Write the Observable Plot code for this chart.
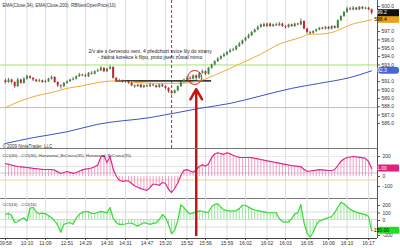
<!DOCTYPE html>
<html><head><meta charset="utf-8">
<script src="https://cdn.jsdelivr.net/npm/d3@7"></script>
<script src="https://cdn.jsdelivr.net/npm/@observablehq/plot@0.6"></script>
<style>
html,body{margin:0;padding:0;background:#fff;}
#chart{position:relative;width:400px;height:248px;overflow:hidden;}
#chart svg{position:absolute;left:0;}
</style></head><body><div id="chart"></div>
<script>
// ---------- data ----------
const open = [591.1,590.9,591.2,590.9,590.4,591.2,590.8,591.3,591.6,591.4,
591.2,591.0,591.1,590.9,591.0,591.3,591.5,590.9,590.5,590.4,
590.8,591.0,591.2,591.3,591.6,591.8,591.7,591.6,592.0,591.9,
592.2,592.3,592.6,592.2,592.5,592.7,591.4,591.0,591.1,590.9,
591.0,590.8,590.5,590.4,590.6,590.3,590.5,590.4,590.6,590.5,
590.3,590.6,590.4,590.2,589.8,589.6,589.9,590.4,590.9,591.2,
591.4,591.3,591.7,591.4,592.0,592.2,591.9,592.6,593.0,593.4,
593.7,594.0,594.2,594.5,594.7,594.8,595.2,595.5,595.9,596.2,
596.5,596.9,597.2,597.5,597.8,597.6,597.9,597.6,597.8,597.7,
597.9,597.6,597.5,597.8,597.6,597.9,597.8,598.2,597.3,596.9,
596.8,597.0,597.2,597.4,597.3,597.5,597.3,597.6,597.4,598.3,
598.8,599.3,599.7,599.6,599.8,599.6,599.9,599.7,599.8,599.6];
const close = [590.9,591.2,590.9,590.4,591.2,590.8,591.3,591.6,591.4,591.2,
591.0,591.1,590.9,591.0,591.3,591.5,590.9,590.5,590.4,590.8,
591.0,591.2,591.3,591.6,591.8,591.7,591.6,592.0,591.9,592.2,
592.3,592.6,592.2,592.5,592.7,591.4,591.0,591.1,590.9,591.0,
590.8,590.5,590.4,590.6,590.3,590.5,590.4,590.6,590.5,590.3,
590.6,590.4,590.2,589.8,589.6,589.9,590.4,590.9,591.2,591.4,
591.3,591.7,591.4,592.0,592.2,591.9,592.6,593.0,593.4,593.7,
594.0,594.2,594.5,594.7,594.8,595.2,595.5,595.9,596.2,596.5,
596.9,597.2,597.5,597.8,597.6,597.9,597.6,597.8,597.7,597.9,
597.6,597.5,597.8,597.6,597.9,597.8,598.2,597.3,596.9,596.8,
597.0,597.2,597.4,597.3,597.5,597.3,597.6,597.4,598.3,598.8,
599.3,599.7,599.6,599.8,599.6,599.9,599.7,599.8,599.6,599.2];
const high = [591.3,591.4,591.3,591.0,591.4,591.3,591.5,591.8,591.7,591.5,
591.3,591.3,591.2,591.2,591.4,591.7,591.6,591.0,590.6,590.9,
591.1,591.3,591.5,591.7,592.0,591.9,591.9,592.1,592.2,592.3,
592.5,592.8,592.7,592.6,592.9,592.8,591.5,591.3,591.2,591.1,
591.1,590.9,590.6,590.7,590.7,590.6,590.6,590.8,590.7,590.6,
590.7,590.7,590.5,590.3,589.9,590.0,590.5,591.0,591.3,591.6,
591.6,591.8,591.8,592.1,592.4,592.3,592.7,593.1,593.5,593.9,
594.1,594.4,594.6,594.9,595.0,595.3,595.7,596.0,596.3,596.7,
597.0,597.3,597.7,597.9,598.0,598.0,598.0,597.9,598.0,598.1,
598.0,597.7,597.9,597.9,598.0,598.0,598.5,598.3,597.4,597.0,
597.1,597.3,597.5,597.5,597.6,597.6,597.7,597.7,598.4,598.9,
599.4,599.9,599.9,600.0,599.9,600.0,600.0,599.9,599.9,599.7];
const low = [590.7,590.8,590.7,590.2,590.3,590.7,590.7,591.2,591.3,591.0,
590.9,590.9,590.8,590.8,590.9,591.2,590.8,590.3,590.1,590.3,
590.7,590.9,591.1,591.2,591.5,591.6,591.5,591.5,591.8,591.8,
592.1,592.2,592.1,592.1,592.4,591.3,590.9,590.9,590.8,590.8,
590.7,590.4,590.2,590.3,590.2,590.2,590.3,590.3,590.4,590.2,
590.2,590.3,590.0,589.6,589.4,589.5,589.8,590.3,590.8,591.1,
591.2,591.2,591.0,591.3,591.9,591.7,591.8,592.5,592.9,593.3,
593.6,593.9,594.1,594.4,594.6,594.7,595.1,595.4,595.8,596.1,
596.4,596.8,597.1,597.4,597.5,597.5,597.5,597.5,597.6,597.6,
597.5,597.3,597.4,597.5,597.5,597.7,597.7,597.2,596.7,596.6,
596.7,596.9,597.1,597.2,597.2,597.2,597.2,597.3,597.3,598.2,
598.7,599.2,599.5,599.5,599.5,599.5,599.6,599.6,599.5,599.0];

const ema34Bar = [0,5,10,15,20,25,30,36,43,50,56,63,70,76,83,89,96,99,102,107,109,112,115,119];
const ema34 = [587.9,588.7,589.3,589.7,590.2,590.5,590.9,591.1,590.9,590.8,590.8,591.1,592.1,593.1,594.3,595.5,596.3,596.7,596.7,597.0,597.3,597.8,598.1,598.4];
const ema200Bar = [0,9,20,30,47,63,73,83,93,102,112,119];
const ema200 = [583.6,584.3,585.0,585.9,586.7,587.8,588.4,589.3,590.2,590.8,591.5,592.3];

const cci30 = [130,122,115,107,100,97,94,90,86,81,
78,75,71,70,70,70,63,46,30,40,
50,41,32,40,53,66,73,78,85,97,
115,195,210,140,200,75,5,-38,-48,-43,
-45,-70,-95,-108,-121,-130,-139,-110,-75,-80,
-88,-60,-70,-130,-160,-120,-65,10,62,69,
55,42,68,100,118,104,125,190,225,238,
228,222,238,226,212,200,192,190,190,190,
188,182,176,170,163,157,151,145,139,133,
127,121,115,109,106,102,97,72,52,55,
59,63,68,67,63,60,60,70,110,152,
175,190,195,200,196,192,188,182,150,81];
const cci16 = [70,82,55,-40,-30,3,20,-20,150,161,
100,76,86,75,53,24,-20,-75,-170,-65,
-50,-42,-62,20,70,95,104,104,82,80,
93,108,99,91,160,15,-40,-65,-65,-60,
-50,-47,-69,-88,-62,-42,-53,-64,-52,-45,
0,66,30,-70,-190,-140,-15,195,160,110,
74,88,100,115,110,96,100,170,202,208,
165,128,120,111,114,119,145,190,190,165,
142,127,118,108,101,92,90,90,90,10,
-28,-35,-35,10,75,88,200,-40,-180,-235,
-170,-70,-18,-5,12,25,40,95,160,228,
210,170,138,115,95,86,75,65,40,-150];

const tickBars = [0,7,13,20,26,33,39,46,52,59,65,72,78,85,91,98,105,111,118];
const tickLabels = ["09:58","10:10","11:09","12:51","14:29","14:30","14:31","14:47","15:20","15:52","15:56","15:59","16:02","16:02","16:03","16:05","16:06","16:10","16:17"];
// labels that the value boxes do not cover
const priceTicks = [586,587,588,589,590,591,593,594,595,596,597,600];
const cci30Ticks = [200,0,-100];
const cci16Ticks = [200,100,0,-200];

const greenLevel = [593.0];
const pinkLevel = [587.9];
const darkLine = [{y: 591.1, x1: 36, x2: 67}];
const flagBar = [54];
const circleAt = [{x: 61.5, y: 591.5}];
const arrowAt = [{x: 62, y: 590.1}];
const arrowFoot = [-227];
const noteAt = [{x: 47, y: 594.3}];
const note = ["2/v ale s červenou není. 4 předchozí svíce šly do strany", "- žádná korekce k flipu, proto jsem zůstal mimo"];
const panel1Label = "EMA(Close,34), EMA(Close,200), RBNextOpenPrice(10)";
const copyright = "© 2009 NinjaTrader, LLC";
const panel2Label = "CCI(30) - CCI(30), Horizontal_BrCross(35), Horizontal_BrCross(35)";
const panel3Label = "CCI(16) - CCI(16)";
const cci30Lines = [{v: 35, c: "#c8c8c8"}, {v: -35, c: "#f5cf9a"}, {v: 100, c: "#e2e2e2"}, {v: 200, c: "#e8e8e8"}];
const cci16Lines = [100, 0, -100];

// ---------- layout ----------
const FONT = "Arial, 'Liberation Sans', sans-serif";
const X_DOMAIN = [-1.6, 120.9];
const P_DOMAIN = [583.0, 600.48];
const C30_DOMAIN = [-220, 270];
const C16_DOMAIN = [-253, 280];
const idx = d3.range(close.length);
const up = idx.filter(i => close[i] >= open[i]);
const dn = idx.filter(i => close[i] < open[i]);
const AX = "#555";
const baseStyle = {fontFamily: FONT, fontSize: "5px", background: "transparent", color: "#222", overflow: "visible"};

function valueBox(val, text, fill, textFill, rx) {
  return (index, scales, values, dims) => {
    const y = scales.y(val);
    const x0 = dims.width - dims.marginRight + 1;
    const g = d3.create("svg:g");
    g.append("rect").attr("x", x0).attr("y", y - 3.5).attr("width", 21).attr("height", 7)
      .attr("rx", rx).attr("fill", fill);
    g.append("text").attr("x", x0 + 2.5).attr("y", y).attr("dy", "0.35em")
      .attr("fill", textFill).attr("font-size", 5).attr("font-family", FONT).text(text);
    return g.node();
  };
}
const last = a => a[a.length - 1];

const p1 = Plot.plot({
  width: 400, height: 149, marginTop: 0, marginBottom: 0, marginLeft: 0, marginRight: 23,
  style: baseStyle,
  x: {domain: X_DOMAIN, axis: null},
  y: {domain: P_DOMAIN, range: [148, 2]},
  marks: [
    Plot.gridX(tickBars, {stroke: "#dedede", strokeOpacity: 1}),
    Plot.ruleY(greenLevel, {stroke: "#a3e36e", strokeWidth: 1}),
    Plot.ruleY(pinkLevel, {stroke: "#f7a3bb", strokeWidth: 1}),
    Plot.ruleX(flagBar, {stroke: "#d42020", strokeDasharray: "3,2", strokeWidth: 1}),
    Plot.ruleY(darkLine, {y: "y", x1: "x1", x2: "x2", stroke: "#3a3a3a", strokeWidth: 1.6}),
    Plot.line(ema200Bar, {x: d => d, y: (d, i) => ema200[i], stroke: "#3a55c4", strokeWidth: 1, curve: "monotone-x"}),
    Plot.line(ema34Bar, {x: d => d, y: (d, i) => ema34[i], stroke: "#f0aa35", strokeWidth: 1, curve: "monotone-x"}),
    Plot.ruleX(idx, {x: i => i, y1: i => low[i], y2: i => high[i], stroke: "#333", strokeWidth: 0.7}),
    Plot.ruleX(up, {x: i => i, y1: i => open[i], y2: i => close[i], stroke: "#3a8f3a", strokeWidth: 2}),
    Plot.ruleX(dn, {x: i => i, y1: i => open[i], y2: i => close[i], stroke: "#cf2424", strokeWidth: 2}),
    Plot.dot(circleAt, {x: "x", y: "y", r: 7, stroke: "#cc2020", fill: "none", strokeWidth: 1}),
    Plot.arrow(arrowAt, {x1: "x", x2: "x", y1: () => P_DOMAIN[0], y2: "y", stroke: "#c81414", strokeWidth: 2.5, headLength: 7}),
    Plot.text(noteAt, {x: "x", y: "y", text: () => note.join("\n"), fontSize: 5, lineHeight: 1.3, fill: "#222", fontFamily: FONT}),
    Plot.text([panel1Label], {frameAnchor: "top-left", dx: 2, dy: 3, fontSize: 4.5, fill: "#333", fontFamily: FONT}),
    Plot.text([copyright], {frameAnchor: "bottom-left", dx: 2, dy: -2, fontSize: 4.5, fill: "#333", fontFamily: FONT}),
    Plot.ruleY([P_DOMAIN[0]], {stroke: "#777", strokeWidth: 1}),
    Plot.ruleX([X_DOMAIN[1]], {stroke: AX}),
    Plot.axisY({anchor: "right", ticks: priceTicks, tickFormat: d => d.toFixed(1), tickSize: 2, tickPadding: 2, fontSize: 5, label: null, stroke: AX, fill: "#333"}),
    valueBox(last(ema200), last(ema200).toFixed(1), "#4a66d6", "#fff", 3),
    valueBox(last(ema34), last(ema34).toFixed(1), "#e8a21f", "#000", 0),
    valueBox(last(close), last(close).toFixed(1), "#111", "#fff", 0)
  ]
});

const p2 = Plot.plot({
  width: 400, height: 49, marginTop: 0, marginBottom: 0, marginLeft: 0, marginRight: 23,
  style: baseStyle,
  x: {domain: X_DOMAIN, axis: null},
  y: {domain: C30_DOMAIN, range: [49, 0]},
  marks: [
    Plot.gridX(tickBars, {stroke: "#dedede", strokeOpacity: 1}),
    Plot.ruleY(cci30Lines, {y: "v", stroke: d => d.c}),
    Plot.ruleX(idx, {x: i => i, y1: 0, y2: i => cci30[i], stroke: "#f3a0c8", strokeWidth: 1}),
    Plot.line(idx, {x: i => i, y: i => cci30[i], stroke: "#e0288c", strokeWidth: 1.2}),
    Plot.ruleX(arrowAt, {x: "x", stroke: "#c81414", strokeWidth: 2.5}),
    Plot.text([panel2Label], {frameAnchor: "top-left", dx: 2, dy: 4, fontSize: 4.3, fill: "#333", fontFamily: FONT}),
    Plot.ruleY([C30_DOMAIN[0]], {stroke: "#777", strokeWidth: 1}),
    Plot.ruleX([X_DOMAIN[1]], {stroke: AX}),
    Plot.axisY({anchor: "right", ticks: cci30Ticks, tickFormat: d => String(d), tickSize: 2, tickPadding: 3, fontSize: 5, label: null, stroke: AX, fill: "#333"}),
    valueBox(last(cci30), last(cci30).toFixed(2), "#e0207a", "#fff", 1)
  ]
});

const p3 = Plot.plot({
  width: 400, height: 50, marginTop: 0, marginBottom: 10, marginLeft: 0, marginRight: 23,
  style: baseStyle,
  x: {domain: X_DOMAIN},
  y: {domain: C16_DOMAIN, range: [40, 0]},
  marks: [
    Plot.gridX(tickBars, {stroke: "#dedede", strokeOpacity: 1}),
    Plot.ruleY(cci16Lines, {stroke: "#dcdcdc"}),
    Plot.ruleX(idx, {x: i => i, y1: 0, y2: i => cci16[i], stroke: "#9be89b", strokeWidth: 1}),
    Plot.line(idx, {x: i => i, y: i => cci16[i], stroke: "#3ad83a", strokeWidth: 1.2}),
    Plot.ruleX(arrowAt, {x: "x", y1: () => arrowFoot[0], y2: () => C16_DOMAIN[1], stroke: "#c81414", strokeWidth: 2.5}),
    Plot.text([panel3Label], {frameAnchor: "top-left", dx: 2, dy: 4, fontSize: 4.3, fill: "#333", fontFamily: FONT}),
    Plot.ruleY([C16_DOMAIN[0]], {stroke: "#444", strokeWidth: 1}),
    Plot.ruleX([X_DOMAIN[1]], {stroke: AX}),
    Plot.axisY({anchor: "right", ticks: cci16Ticks, tickFormat: d => String(d), tickSize: 2, tickPadding: 3, fontSize: 5, label: null, stroke: AX, fill: "#333", dy: 1}),
    Plot.axisX({ticks: tickBars, tickFormat: d => tickLabels[tickBars.indexOf(d)], tickSize: 2, tickPadding: 1, fontSize: 5, label: null, stroke: "#444", fill: "#333"}),
    valueBox(last(cci16), last(cci16).toFixed(2), "#22dd22", "#000", 1)
  ]
});

const chart = document.getElementById("chart");
[[p1, 0], [p2, 149], [p3, 198]].forEach(([svg, top]) => {
  svg.style.top = top + "px";
  chart.appendChild(svg);
});
</script>
</body></html>
